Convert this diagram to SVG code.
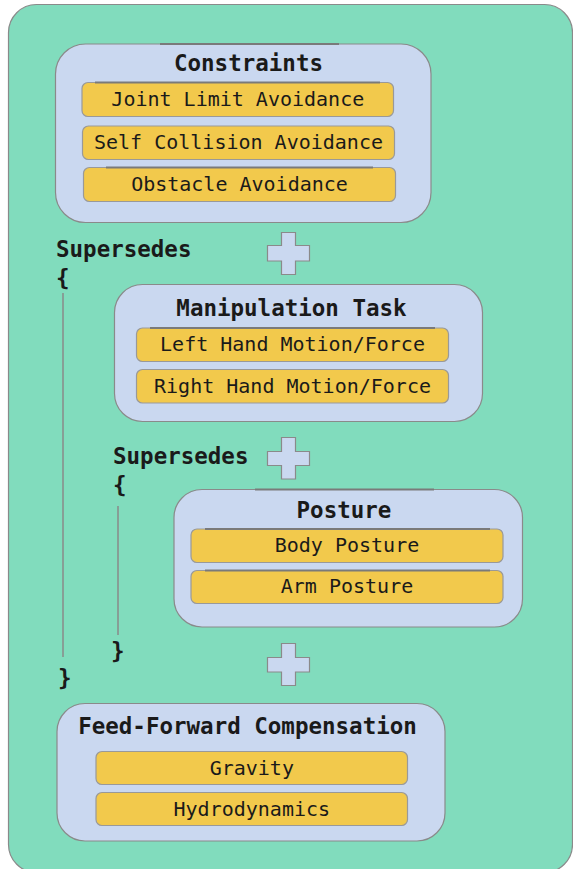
<svg xmlns="http://www.w3.org/2000/svg" width="573" height="869" viewBox="0 0 573 869">
<style>
.bg{fill:#81dcbd;stroke:#8a8a8a;stroke-width:1.2}
.grp{fill:#cad8f0;stroke:#8a8a8a;stroke-width:1.2}
.item{fill:#f2c94c;stroke:#999;stroke-width:1.2}
.plus{fill:#cad8f0;stroke:#8a8a8a;stroke-width:1.2}
.top{stroke:#7a7a7a;stroke-width:2;fill:none}
.title{font-family:"DejaVu Sans Mono","Liberation Mono",monospace;font-weight:bold;font-size:22.5px;fill:#1a1a1a;text-anchor:middle}
.lbl{font-family:"DejaVu Sans Mono","Liberation Mono",monospace;font-size:20px;fill:#1a1a1a;text-anchor:middle}
.kw{font-family:"DejaVu Sans Mono","Liberation Mono",monospace;font-weight:bold;font-size:22.5px;fill:#1a1a1a}
.brk{stroke:#8a8a8a;stroke-width:1.5;fill:none}
</style>
<rect class="bg" x="8.5" y="4.5" width="564" height="868" rx="28"/>

<g id="connectors">
<path class="plus" d="M281.5 232.5h14v13h14v15.5h-14v13.5h-14v-13.5h-14v-15.5h14z"/>
<path class="plus" d="M281.5 437.5h14v14h14v14h-14v13.5h-14v-13.5h-14v-14h14z"/>
<path class="plus" d="M281.5 643.5h14v14h14v14.5h-14v13.5h-14v-13.5h-14v-14.5h14z"/>
<text class="kw" x="56" y="257">Supersedes</text>
<text class="kw" x="56" y="286">{</text>
<line class="brk" x1="63" y1="293" x2="63" y2="657"/>
<text class="kw" x="58" y="686">}</text>
<text class="kw" x="113" y="464">Supersedes</text>
<text class="kw" x="113" y="493">{</text>
<line class="brk" x1="118" y1="506" x2="118" y2="635"/>
<text class="kw" x="111" y="659">}</text>
</g>

<g id="constraints">
<rect class="grp" x="55.5" y="44" width="375.5" height="178.5" rx="30"/>
<line class="top" x1="160" y1="44" x2="339" y2="44"/>
<text class="title" x="248.5" y="71">Constraints</text>
</g>
<g id="joint-limit">
<rect class="item" x="82" y="82.5" width="311.5" height="34" rx="6"/>
<line class="top" x1="95" y1="82.5" x2="380" y2="82.5"/>
<text class="lbl" x="237.8" y="106">Joint Limit Avoidance</text>
</g>
<g id="self-collision">
<rect class="item" x="82.5" y="126" width="312" height="33.5" rx="6"/>
<text class="lbl" x="238.5" y="149">Self Collision Avoidance</text>
</g>
<g id="obstacle">
<rect class="item" x="83.5" y="167.5" width="312" height="34" rx="6"/>
<line class="top" x1="106" y1="167.5" x2="373" y2="167.5"/>
<text class="lbl" x="239.5" y="190.5">Obstacle Avoidance</text>
</g>

<g id="manipulation">
<rect class="grp" x="114.5" y="284.5" width="368" height="137" rx="28"/>
<text class="title" x="291.5" y="315.5">Manipulation Task</text>
</g>
<g id="left-hand">
<rect class="item" x="136.5" y="328" width="312" height="33.5" rx="6"/>
<line class="top" x1="150" y1="328" x2="435" y2="328"/>
<text class="lbl" x="292.5" y="351">Left Hand Motion/Force</text>
</g>
<g id="right-hand">
<rect class="item" x="136.5" y="369.5" width="312" height="33.5" rx="6"/>
<text class="lbl" x="292.5" y="392.5">Right Hand Motion/Force</text>
</g>

<g id="posture">
<rect class="grp" x="174" y="489.5" width="348.5" height="137.5" rx="28"/>
<line class="top" x1="255" y1="489.5" x2="434" y2="489.5"/>
<text class="title" x="344" y="517.5">Posture</text>
</g>
<g id="body-posture">
<rect class="item" x="191" y="529" width="312" height="33.5" rx="6"/>
<line class="top" x1="205" y1="529" x2="490" y2="529"/>
<text class="lbl" x="347" y="552">Body Posture</text>
</g>
<g id="arm-posture">
<rect class="item" x="191" y="570.5" width="312" height="33" rx="6"/>
<line class="top" x1="205" y1="570.5" x2="490" y2="570.5"/>
<text class="lbl" x="347" y="593">Arm Posture</text>
</g>

<g id="feed-forward">
<rect class="grp" x="57" y="703.5" width="388" height="137.5" rx="28"/>
<text class="title" x="247.5" y="734">Feed-Forward Compensation</text>
</g>
<g id="gravity">
<rect class="item" x="96" y="751.5" width="311.5" height="33" rx="6"/>
<text class="lbl" x="251.8" y="774.5">Gravity</text>
</g>
<g id="hydrodynamics">
<rect class="item" x="96" y="792.5" width="311.5" height="33" rx="6"/>
<text class="lbl" x="251.8" y="815.5">Hydrodynamics</text>
</g>
</svg>
